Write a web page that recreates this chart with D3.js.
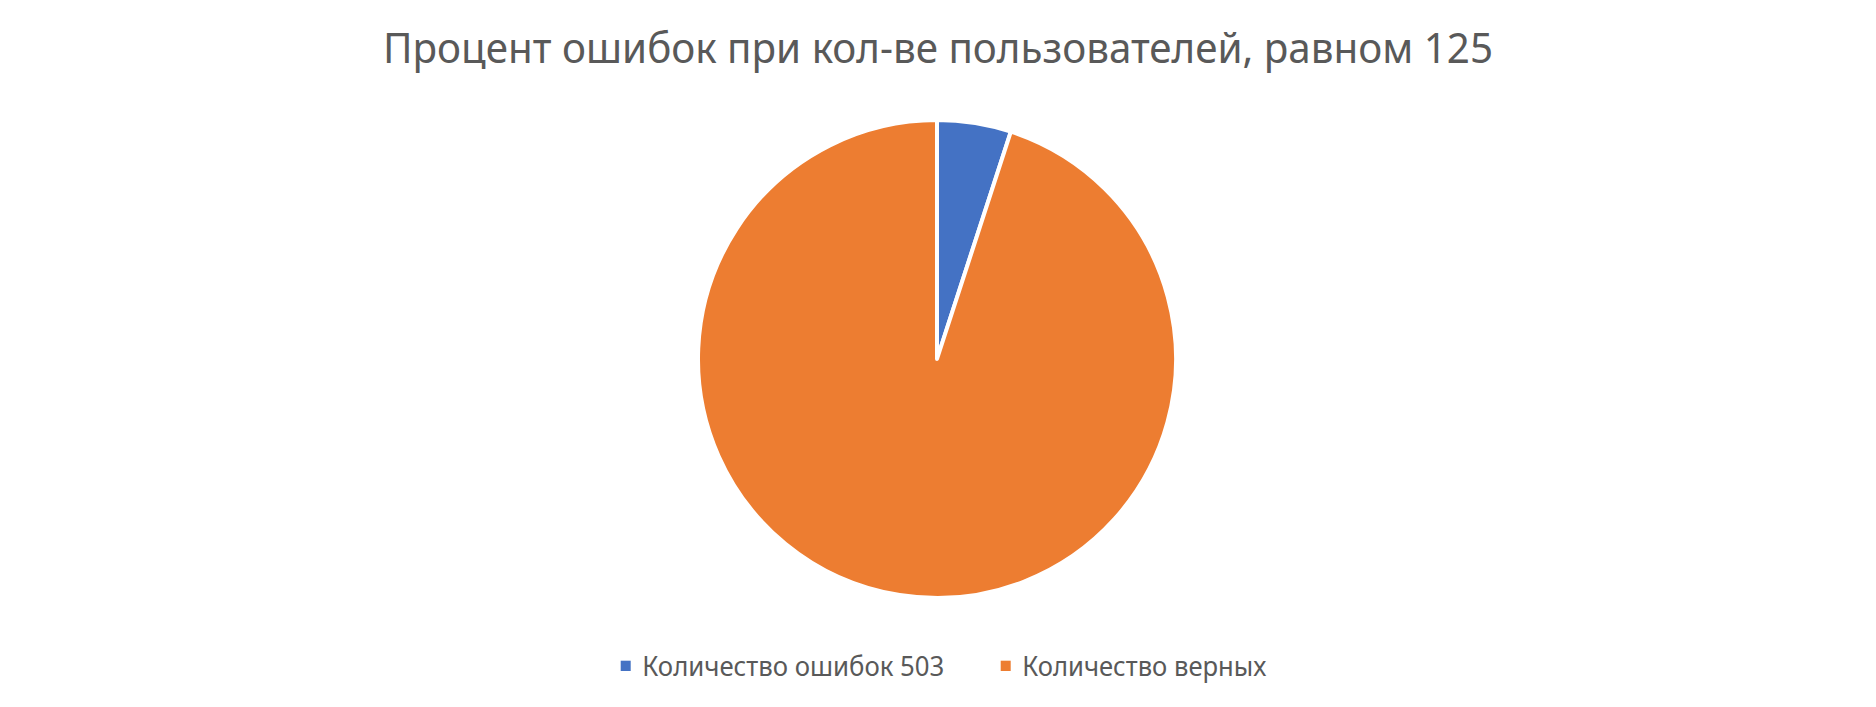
<!DOCTYPE html>
<html>
<head>
<meta charset="utf-8">
<script src="https://cdn.jsdelivr.net/npm/d3@7"></script>
<style>
  html, body { margin: 0; padding: 0; background: #ffffff; }
  svg { display: block; }
  text { font-family: "Noto Sans", "Open Sans", sans-serif; fill: #595959; }
</style>
</head>
<body>
<svg id="chart" width="1876" height="707"></svg>
<script>
const title = "Процент ошибок при кол-ве пользователей, равном 125";
const categories = ["Количество ошибок 503", "Количество верных"];
const values = [5, 95];
const colors = ["#4472C4", "#ED7D31"];

const W = 1876, H = 707;
const svg = d3.select("#chart");

// Title
const t = svg.append("text")
  .attr("x", W / 2)
  .attr("y", 62.7)
  .attr("text-anchor", "middle")
  .style("font-size", "42px")
  .style("font-weight", 400)
  .text(title);
const tw = t.node().getComputedTextLength();
if (Math.abs(tw - 1110) > 4) t.attr("textLength", 1110).attr("lengthAdjust", "spacingAndGlyphs");

// Pie
const cx = 937, cy = 359, r = 239;
const pie = d3.pie().sort(null).value(d => d);
const arc = d3.arc().innerRadius(0).outerRadius(r);
const color = d3.scaleOrdinal().domain(categories).range(colors);

svg.append("g")
  .attr("transform", `translate(${cx},${cy})`)
  .selectAll("path")
  .data(pie(values))
  .join("path")
  .attr("d", arc)
  .attr("fill", (d, i) => color(categories[i]))
  .attr("stroke", "#ffffff")
  .attr("stroke-width", 4)
  .attr("stroke-linejoin", "round");

// Legend
const legendX = [620.7, 1000.7];
const legendTextW = [302, 244];
const lg = svg.append("g");
categories.forEach((c, i) => {
  lg.append("rect")
    .attr("x", legendX[i]).attr("y", 660.7)
    .attr("width", 10).attr("height", 10.3)
    .attr("fill", color(c));
  const tx = lg.append("text")
    .attr("x", legendX[i] + 21.6)
    .attr("y", 675.7)
    .style("font-size", "28px")
    .text(c);
  const w = tx.node().getComputedTextLength();
  if (Math.abs(w - legendTextW[i]) > 3) tx.attr("textLength", legendTextW[i]).attr("lengthAdjust", "spacingAndGlyphs");
});
</script>
</body>
</html>
